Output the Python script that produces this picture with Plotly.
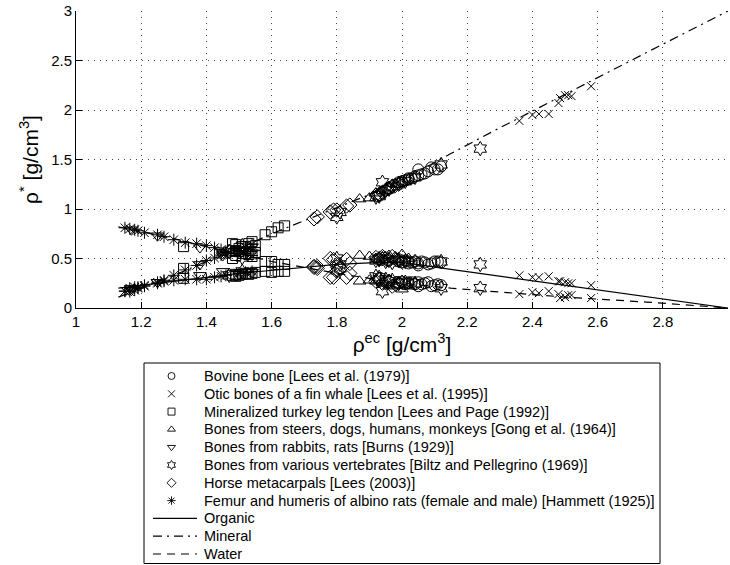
import plotly.graph_objects as go

# ---------------- data ----------------
# model curves
line_x = [1.13, 1.2, 1.3, 1.4, 1.5, 1.6, 1.7, 1.8, 1.9, 2.0, 2.15, 2.3, 2.5, 2.75, 3.0]
line_organic = [0.20, 0.23, 0.27, 0.31, 0.35, 0.38, 0.41, 0.44, 0.455, 0.46, 0.39, 0.32, 0.23, 0.115, 0.0]
line_water = [0.82, 0.77, 0.70, 0.62, 0.55, 0.47, 0.41, 0.35, 0.30, 0.25, 0.20, 0.16, 0.11, 0.06, 0.0]
line_mineral = [0.11, 0.20, 0.33, 0.47, 0.60, 0.75, 0.88, 1.01, 1.145, 1.29, 1.56, 1.82, 2.16, 2.58, 3.0]

# Bovine bone [Lees et al. (1979)]
bov_x = [1.99, 2.00, 2.01, 2.02, 2.02, 2.03, 2.04, 2.05, 2.05, 2.06, 2.07, 2.08, 2.09, 2.10, 2.11, 2.12]
bov_min = [1.27, 1.28, 1.29, 1.31, 1.30, 1.31, 1.33, 1.40, 1.34, 1.35, 1.36, 1.38, 1.42, 1.40, 1.40, 1.43]
bov_org = [0.47, 0.46, 0.48, 0.45, 0.47, 0.46, 0.47, 0.43, 0.45, 0.47, 0.46, 0.44, 0.45, 0.47, 0.47, 0.46]
bov_wat = [0.25, 0.26, 0.24, 0.26, 0.25, 0.26, 0.24, 0.22, 0.26, 0.24, 0.25, 0.26, 0.22, 0.23, 0.24, 0.23]

# Otic bones of a fin whale [Lees et al. (1995)]
wha_x = [2.36, 2.40, 2.42, 2.45, 2.48, 2.485, 2.50, 2.51, 2.52, 2.58]
wha_min = [1.89, 1.95, 1.96, 1.96, 2.07, 2.12, 2.15, 2.15, 2.14, 2.24]
wha_org = [0.33, 0.31, 0.31, 0.32, 0.27, 0.27, 0.26, 0.25, 0.25, 0.23]
wha_wat = [0.14, 0.16, 0.15, 0.17, 0.14, 0.10, 0.11, 0.13, 0.13, 0.10]

# Mineralized turkey leg tendon [Lees and Page (1992)]
tur_x = [1.33, 1.48, 1.49, 1.49, 1.50, 1.51, 1.52, 1.53, 1.54, 1.55, 1.58, 1.60, 1.62, 1.64]
tur_min = [0.40, 0.50, 0.53, 0.57, 0.60, 0.62, 0.55, 0.65, 0.67, 0.63, 0.74, 0.77, 0.81, 0.83]
tur_org = [0.30, 0.33, 0.32, 0.34, 0.33, 0.34, 0.35, 0.34, 0.35, 0.36, 0.37, 0.36, 0.37, 0.37]
tur_wat = [0.62, 0.65, 0.64, 0.58, 0.57, 0.55, 0.62, 0.54, 0.52, 0.56, 0.47, 0.47, 0.44, 0.44]

# Bones from steers, dogs, humans, monkeys [Gong et al. (1964)]
gon_x = [1.87, 1.90, 1.92, 1.94, 1.96, 1.98, 2.00, 2.02]
gon_min = [1.10, 1.11, 1.16, 1.18, 1.21, 1.25, 1.27, 1.30]
gon_org = [0.53, 0.52, 0.50, 0.51, 0.53, 0.50, 0.54, 0.50]
gon_wat = [0.27, 0.28, 0.27, 0.25, 0.22, 0.23, 0.19, 0.22]

# Bones from rabbits, rats [Burns (1929)]
bur_x = [1.17, 1.25, 1.38, 1.45, 1.50, 1.54]
bur_min = [0.18, 0.26, 0.44, 0.53, 0.58, 0.62]
bur_org = [0.20, 0.26, 0.33, 0.37, 0.34, 0.36]
bur_wat = [0.79, 0.73, 0.61, 0.55, 0.58, 0.56]

# Bones from various vertebrates [Biltz and Pellegrino (1969)]
bil_x = [1.47, 1.51, 1.80, 1.81, 1.92, 1.93, 1.93, 1.94, 1.95, 1.96, 1.97, 1.99, 2.01, 2.04, 2.12, 2.24]
bil_min = [0.57, 0.63, 0.92, 0.97, 1.12, 1.14, 1.13, 1.27, 1.19, 1.20, 1.23, 1.26, 1.28, 1.32, 1.45, 1.61]
bil_org = [0.33, 0.37, 0.50, 0.44, 0.48, 0.50, 0.49, 0.50, 0.47, 0.49, 0.46, 0.48, 0.47, 0.47, 0.47, 0.44]
bil_wat = [0.57, 0.51, 0.38, 0.40, 0.32, 0.29, 0.31, 0.17, 0.29, 0.27, 0.28, 0.25, 0.26, 0.25, 0.20, 0.20]

# Horse metacarpals [Lees (2003)]
hor_x = [1.73, 1.74, 1.78, 1.79, 1.80, 1.83, 1.84, 1.92, 1.93, 1.94, 1.95, 1.96, 1.97, 1.98, 1.99, 2.00]
hor_min = [0.90, 0.92, 0.97, 0.99, 0.99, 1.03, 1.04, 1.14, 1.15, 1.17, 1.19, 1.21, 1.23, 1.24, 1.25, 1.27]
hor_org = [0.41, 0.42, 0.50, 0.49, 0.44, 0.49, 0.45, 0.51, 0.49, 0.52, 0.50, 0.48, 0.52, 0.50, 0.49, 0.47]
hor_wat = [0.42, 0.40, 0.31, 0.31, 0.37, 0.31, 0.35, 0.27, 0.29, 0.25, 0.26, 0.27, 0.22, 0.24, 0.25, 0.26]

# Femur and humeris of albino rats [Hammett (1925)]
ham_x = [1.15, 1.165, 1.18, 1.19, 1.21, 1.25, 1.27, 1.30, 1.335, 1.37, 1.40, 1.425, 1.445, 1.46, 1.50, 1.52, 1.54]
ham_wat = [0.81, 0.80, 0.79, 0.78, 0.76, 0.74, 0.72, 0.69, 0.66, 0.65, 0.63, 0.61, 0.59, 0.56, 0.57, 0.55, 0.53]
ham_org = [0.17, 0.20, 0.21, 0.21, 0.22, 0.25, 0.27, 0.28, 0.29, 0.29, 0.29, 0.31, 0.32, 0.33, 0.35, 0.36, 0.37]
ham_min = [0.17, 0.165, 0.18, 0.20, 0.23, 0.26, 0.28, 0.33, 0.385, 0.43, 0.48, 0.505, 0.535, 0.57, 0.58, 0.61, 0.64]

x_ticks = [1, 1.2, 1.4, 1.6, 1.8, 2, 2.2, 2.4, 2.6, 2.8, 3]
y_ticks = [0, 0.5, 1, 1.5, 2, 2.5, 3]

legend_labels = [
    "Bovine bone [Lees et al. (1979)]",
    "Otic bones of a fin whale [Lees et al. (1995)]",
    "Mineralized turkey leg tendon [Lees and Page (1992)]",
    "Bones from steers, dogs, humans, monkeys [Gong et al. (1964)]",
    "Bones from rabbits, rats [Burns (1929)]",
    "Bones from various vertebrates [Biltz and Pellegrino (1969)]",
    "Horse metacarpals [Lees (2003)]",
    "Femur and humeris of albino rats (female and male) [Hammett (1925)]",
    "Organic",
    "Mineral",
    "Water",
]

# ---------------- styling / layout ----------------
FONT = "Liberation Sans, Arial, Helvetica, sans-serif"
W, H_TARGET = 730, 565
H = 574                      # the page is photographed ~9px shorter than requested
S = H / H_TARGET
ML, MR = 76, 2
MT, MB = 10 * S, 2 * S
# design coordinates below are in target pixels (565-high picture)
D_TOP, D_BOT = 10, 563
D_PH = D_BOT - D_TOP
AX_BOTTOM = 307
y_dom0 = (D_BOT - AX_BOTTOM) / D_PH
LEG_DOM = 0.38

datasets = [
    (bov_x, bov_min, bov_org, bov_wat, "circle-open", 11),
    (wha_x, wha_min, wha_org, wha_wat, "x-thin-open", 8),
    (tur_x, tur_min, tur_org, tur_wat, "square-open", 10),
    (gon_x, gon_min, gon_org, gon_wat, "triangle-up-open", 11),
    (bur_x, bur_min, bur_org, bur_wat, "triangle-down-open", 11),
    (bil_x, bil_min, bil_org, bil_wat, "hexagram-open", 11),
    (hor_x, hor_min, hor_org, hor_wat, "diamond-open", 11),
    (ham_x, ham_min, ham_org, ham_wat, "asterisk-open", 10),
]

fig = go.Figure()

line_styles = [
    (line_organic, "solid"),
    (line_mineral, "9px,5px,2px,5px"),
    (line_water, "8px,6px"),
]
for ys, dash in line_styles:
    fig.add_trace(go.Scatter(x=line_x, y=ys, mode="lines",
                             line=dict(color="black", width=1.2, dash=dash),
                             showlegend=False, hoverinfo="skip"))

for xs, mn, og, wt, sym, sz in datasets:
    fig.add_trace(go.Scatter(
        x=list(xs) * 3, y=list(mn) + list(og) + list(wt), mode="markers",
        marker=dict(symbol=sym, size=sz, color="black",
                    line=dict(color="black", width=1.0)),
        showlegend=False))

# ---------------- hand-built legend (target-pixel coordinates on helper axes) --------
LEG_L, LEG_R, LEG_T, LEG_B = 144, 660, 362, 562.5
ROW0, ROWSTEP = 375, 17.8
rows = [ROW0 + ROWSTEP * i for i in range(len(legend_labels))]
SYM_X = 171.5
TEXT_X = 202

fig.add_trace(go.Scatter(
    x=[SYM_X] * len(datasets), y=rows[:len(datasets)], mode="markers",
    xaxis="x2", yaxis="y2",
    marker=dict(symbol=[d[4] for d in datasets], size=7, color="black",
                line=dict(color="black", width=0.9)),
    showlegend=False, hoverinfo="skip"))

shapes = [dict(type="rect", xref="x2", yref="y2", x0=LEG_L, x1=LEG_R, y0=LEG_T, y1=LEG_B,
               line=dict(color="black", width=1), fillcolor="rgba(0,0,0,0)")]
for (ys, dash), r in zip(line_styles, rows[len(datasets):]):
    shapes.append(dict(type="line", xref="x2", yref="y2", x0=153, x1=197, y0=r, y1=r,
                       line=dict(color="black", width=1.2, dash=dash)))

annotations = []
for lab, r in zip(legend_labels, rows):
    annotations.append(dict(text=lab, x=TEXT_X, y=r, xref="x2", yref="y2",
                            xanchor="left", yanchor="middle", showarrow=False,
                            font=dict(family=FONT, size=14.5, color="black")))

grid_dash = "1px,5px"
fig.update_layout(
    width=W, height=H, autosize=False,
    margin=dict(l=ML, r=MR, t=MT, b=MB, pad=0),
    paper_bgcolor="white", plot_bgcolor="white",
    font=dict(family=FONT, color="black"),
    showlegend=False,
    xaxis=dict(range=[1, 3], domain=[0, 1], anchor="y",
               tickvals=x_ticks, ticktext=[f"{v:g}" for v in x_ticks],
               ticks="inside", ticklen=6, tickcolor="black",
               showline=True, linecolor="black", linewidth=1,
               showgrid=True, gridcolor="#444", gridwidth=1, griddash=grid_dash,
               zeroline=False, tickfont=dict(size=15),
               title=dict(text="ρ<sup>ec</sup> [g/cm<sup>3</sup>]",
                          font=dict(size=21), standoff=2)),
    yaxis=dict(range=[0, 3], domain=[y_dom0, 1], anchor="x",
               tickvals=y_ticks, ticktext=[f"{v:g}" for v in y_ticks],
               ticks="inside", ticklen=6, tickcolor="black",
               showline=True, linecolor="black", linewidth=1,
               showgrid=True, gridcolor="#444", gridwidth=1, griddash=grid_dash,
               zeroline=False, tickfont=dict(size=15),
               title=dict(text="ρ<sup>*</sup> [g/cm<sup>3</sup>]",
                          font=dict(size=21), standoff=6)),
    xaxis2=dict(range=[ML, W - MR], domain=[0, 1], anchor="y2", visible=False,
                fixedrange=True),
    yaxis2=dict(range=[D_BOT, D_BOT - LEG_DOM * D_PH], domain=[0, LEG_DOM], anchor="x2",
                visible=False, fixedrange=True),
    shapes=shapes,
    annotations=annotations,
)

fig.write_html("out.html",
               config={"displayModeBar": False, "responsive": False},
               post_script="document.body.style.margin='0';")
